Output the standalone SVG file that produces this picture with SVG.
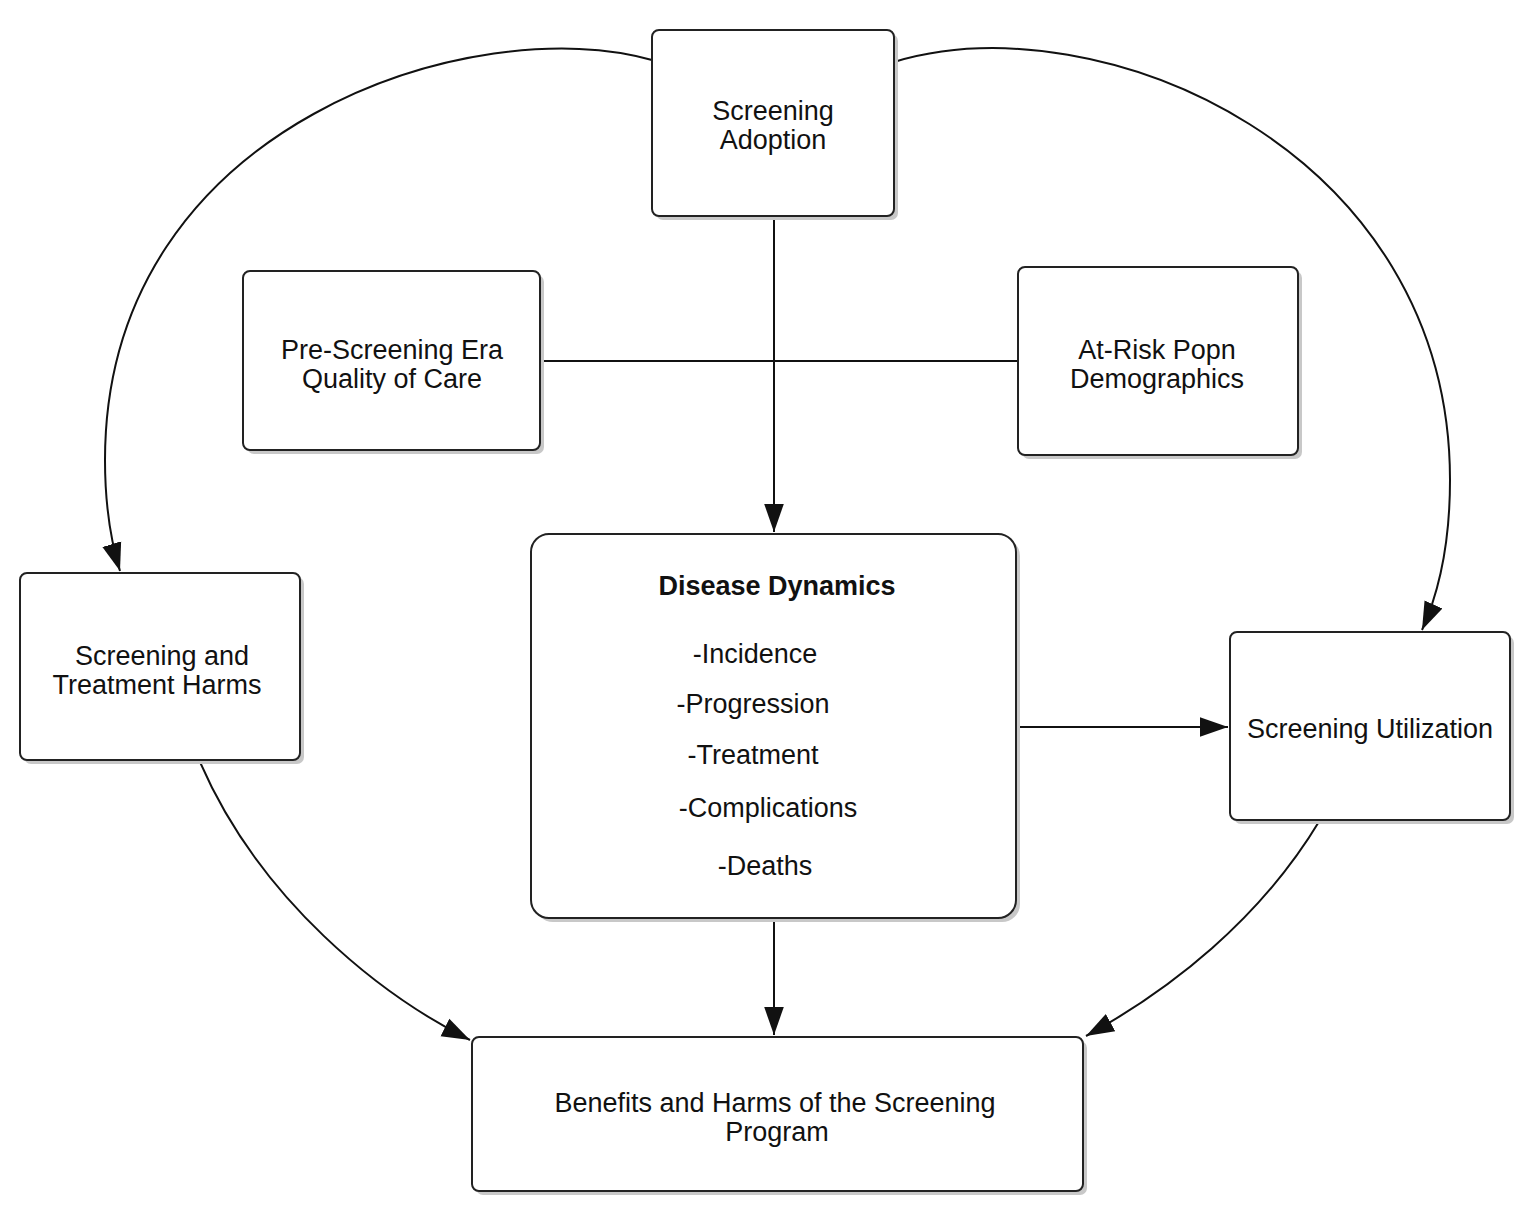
<svg xmlns="http://www.w3.org/2000/svg" width="1533" height="1222" viewBox="0 0 1533 1222">
<style>
.box{fill:#fff;stroke:#222;stroke-width:2}
.sh{fill:#c8c8c8}
text{font-family:"Liberation Sans",Arial,sans-serif;font-size:27px;fill:#111;text-anchor:middle}
.c{fill:none;stroke:#111;stroke-width:2}
</style>
<defs><marker id="a" viewBox="0 0 10 10" refX="10" refY="5" markerWidth="16" markerHeight="16" markerUnits="userSpaceOnUse" orient="auto"><path d="M0,0L10,5L0,10z" fill="#111"/></marker>
<marker id="b" viewBox="0 0 10 10" refX="10" refY="5" markerWidth="28" markerHeight="28" markerUnits="userSpaceOnUse" orient="auto"><path d="M0,1.5L10,5L0,8.5z" fill="#111"/></marker></defs>
<rect width="1533" height="1222" fill="#fff"/>
<g id="connectors">
<path class="c" d="M774,216V532" marker-end="url(#b)"/>
<path class="c" d="M540,361H1018"/>
<path class="c" d="M1016,727H1228" marker-end="url(#b)"/>
<path class="c" d="M774,918V1035" marker-end="url(#b)"/>
<path class="c" d="M652,60C480,10 105,120 105,460C105,510 112,545 120,571" marker-end="url(#b)"/>
<path class="c" d="M894,62C1100,0 1450,150 1450,480C1450,540 1440,590 1422,630" marker-end="url(#b)"/>
<path class="c" d="M200,762C260,900 380,995 470,1040" marker-end="url(#b)"/>
<path class="c" d="M1320,820C1260,920 1170,990 1086,1036" marker-end="url(#b)"/>
</g>
<g id="adoption"><rect class="sh" x="656" y="34" width="242" height="186" rx="7"/><rect class="box" x="652" y="30" width="242" height="186" rx="7"/><text x="773" y="120">Screening</text><text x="773" y="149">Adoption</text></g>
<g id="prescreen"><rect class="sh" x="247" y="275" width="297" height="179" rx="7"/><rect class="box" x="243" y="271" width="297" height="179" rx="7"/><text x="392" y="359">Pre-Screening Era</text><text x="392" y="388">Quality of Care</text></g>
<g id="atrisk"><rect class="sh" x="1022" y="271" width="280" height="188" rx="7"/><rect class="box" x="1018" y="267" width="280" height="188" rx="7"/><text x="1157" y="359">At-Risk Popn</text><text x="1157" y="388">Demographics</text></g>
<g id="disease"><rect class="sh" x="535" y="538" width="485" height="384" rx="18"/><rect class="box" x="531" y="534" width="485" height="384" rx="18"/><text x="777" y="595" font-weight="bold">Disease Dynamics</text><text x="755" y="663">-Incidence</text><text x="753" y="713">-Progression</text><text x="753" y="764">-Treatment</text><text x="768" y="817">-Complications</text><text x="765" y="875">-Deaths</text></g>
<g id="harms"><rect class="sh" x="24" y="577" width="280" height="187" rx="7"/><rect class="box" x="20" y="573" width="280" height="187" rx="7"/><text x="162" y="665">Screening and</text><text x="157" y="694">Treatment Harms</text></g>
<g id="util"><rect class="sh" x="1234" y="636" width="280" height="188" rx="7"/><rect class="box" x="1230" y="632" width="280" height="188" rx="7"/><text x="1370" y="738">Screening Utilization</text></g>
<g id="benefits"><rect class="sh" x="476" y="1041" width="611" height="154" rx="7"/><rect class="box" x="472" y="1037" width="611" height="154" rx="7"/><text x="775" y="1112">Benefits and Harms of the Screening</text><text x="777" y="1141">Program</text></g>
</svg>
